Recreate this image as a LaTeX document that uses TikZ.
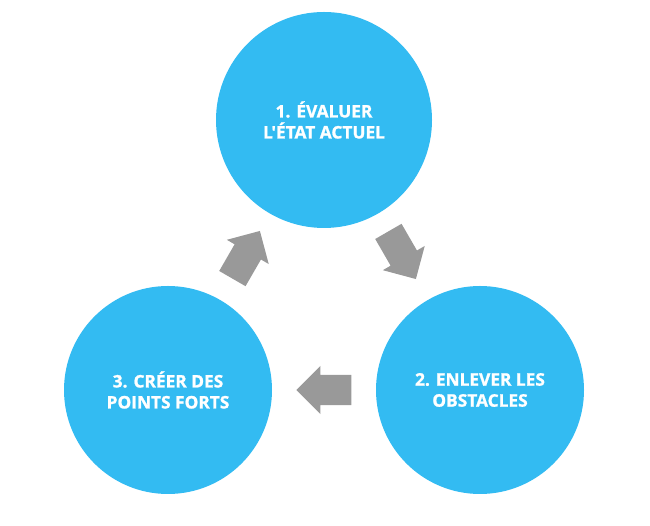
\documentclass[tikz,border=0pt]{standalone}
\usepackage{fontspec}
\setmainfont{Open Sans}[Ligatures=TeXOff,BoldFeatures={FakeBold=1.2}]
\usetikzlibrary{positioning,shapes.arrows}
\definecolor{stepblue}{HTML}{33BBF2}
\definecolor{arrgray}{HTML}{999999}

\begin{document}
\begin{tikzpicture}[x=1pt,y=1pt,
  phase/.style={circle,fill=stepblue,text=white,align=center,inner sep=0pt,
    font=\fontsize{17.3}{21}\selectfont\bfseries},
  blockarr/.style={single arrow,fill=arrgray,inner sep=15pt,minimum width=0pt,
    minimum height=55pt,single arrow head extend=9pt,single arrow tip angle=90,
    sloped,allow upside down,anchor=tail,pos=0.412}]
\useasboundingbox (0,0) rectangle (650,526);
\node[phase,minimum size=216pt] (eval) at (324,406) {1. ÉVALUER\\L'ÉTAT ACTUEL};
\node[phase,minimum size=208pt] (obst) at (480,136) {2. ENLEVER LES\\OBSTACLES};
\node[phase,minimum size=208pt] (fort) at (168,136) {3. CRÉER DES\\POINTS FORTS};
\path (eval.center) -- (obst.center) node[blockarr] (a1) {};
\path (obst.center) -- (fort.center) node[blockarr] (a2) {};
\path (fort.center) -- (eval.center) node[blockarr] (a3) {};
\end{tikzpicture}
\end{document}
